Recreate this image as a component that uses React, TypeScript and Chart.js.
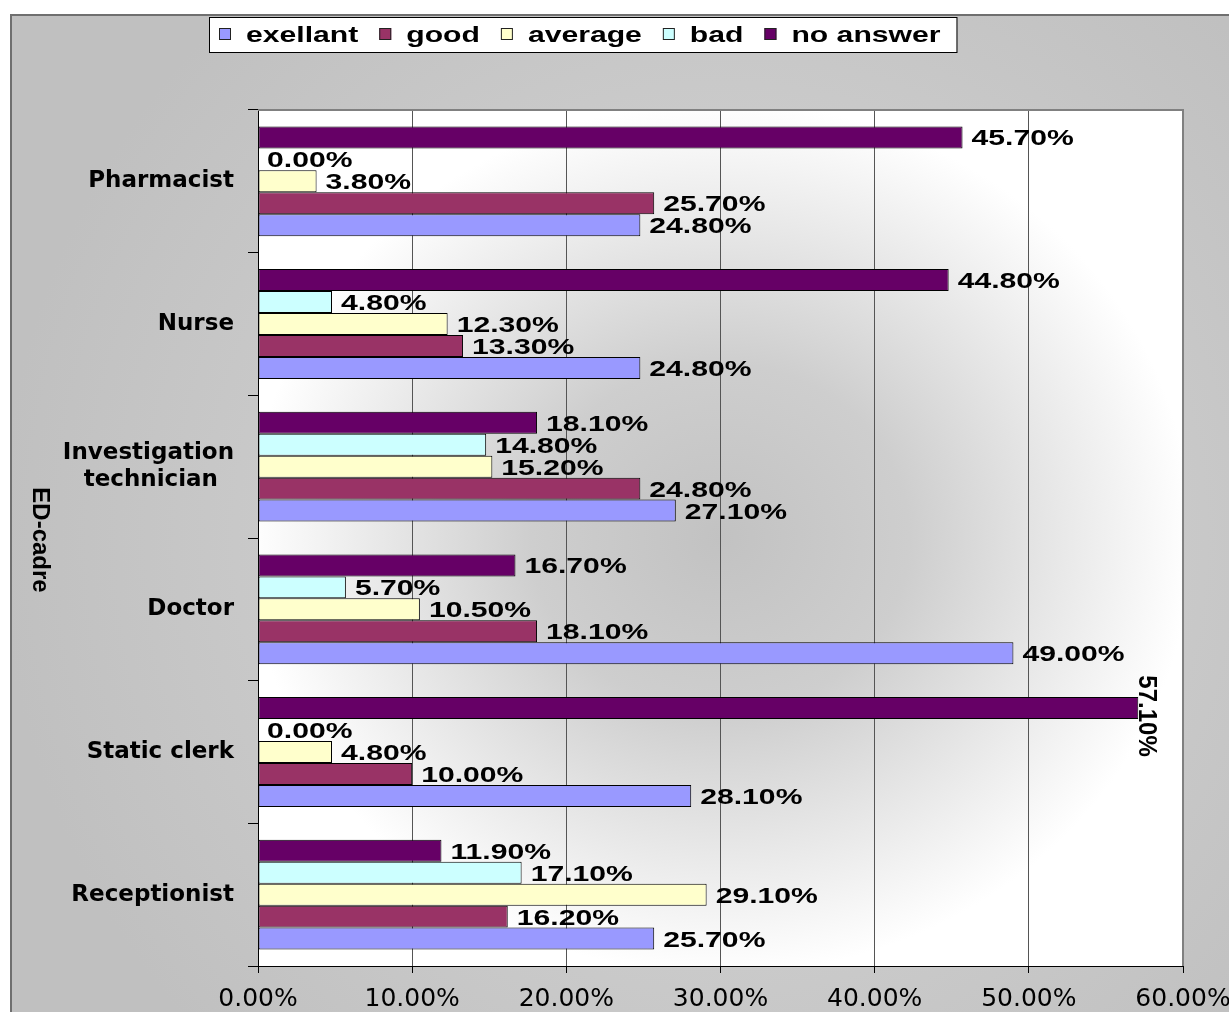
import React, { useEffect, useRef } from 'react';
import { Chart, registerables } from 'chart.js';

Chart.register(...registerables);

// ---------- data ----------
const categories = ['Pharmacist', 'Nurse', 'Investigation technician', 'Doctor', 'Static clerk', 'Receptionist'];
const seriesNames = ['exellant', 'good', 'average', 'bad', 'no answer'];
const exellant = [24.8, 24.8, 27.1, 49.0, 28.1, 25.7];
const good = [25.7, 13.3, 24.8, 18.1, 10.0, 16.2];
const average = [3.8, 12.3, 15.2, 10.5, 4.8, 29.1];
const bad = [0.0, 4.8, 14.8, 5.7, 0.0, 17.1];
const noAnswer = [45.7, 44.8, 18.1, 16.7, 57.1, 11.9];
const xTickValues = [0, 10, 20, 30, 40, 50, 60];
const yAxisTitle = 'ED-cadre';

const seriesColors = ['#9999FF', '#993366', '#FFFFCC', '#CCFFFF', '#660066'];
const seriesValues = [exellant, good, average, bad, noAnswer];

// ---------- helpers ----------
const LABEL_FONT = 'bold 22px "Liberation Sans"';
const SX = 1.37;
const Y_TICK_FONT = { family: '"DejaVu Sans"', size: 23, weight: 'bold' as const };

let measureCtx: CanvasRenderingContext2D | null = null;
function measure(text: string, font: string): number {
  if (!measureCtx) measureCtx = document.createElement('canvas').getContext('2d');
  measureCtx!.font = font;
  return measureCtx!.measureText(text).width;
}

function formatCategory(label: string): string | string[] {
  if (label.length <= 14) return label;
  const words = label.split(' ');
  const lines = [words[0], words.slice(1).join(' ')];
  const font = `bold ${Y_TICK_FONT.size}px ${Y_TICK_FONT.family}`;
  const widths = lines.map((l) => measure(l, font));
  const widest = Math.max(...widths);
  const sp = measure(' ', font);
  return lines.map((l, i) => l + ' '.repeat(Math.round((widest - widths[i]) / 2 / sp)));
}

const fmt = (v: number) => v.toFixed(2) + '%';

// ---------- plugin ----------
const decorPlugin = {
  id: 'decor',
  beforeDraw(chart: any) {
    const { ctx, width, height, chartArea: a } = chart;
    ctx.save();
    ctx.fillStyle = '#ffffff';
    ctx.fillRect(0, 0, width, height);
    const cx = (a.left + a.right) / 2;
    const cy = (a.top + a.bottom) / 2;
    const og = ctx.createRadialGradient(cx, cy, 0, cx, cy, 720);
    og.addColorStop(0, '#dddddd');
    og.addColorStop(0.55, '#cbcbcb');
    og.addColorStop(1, '#c0c0c0');
    ctx.fillStyle = og;
    ctx.fillRect(10, 14, width - 10, height - 14);
    ctx.strokeStyle = '#6f6f6f';
    ctx.lineWidth = 2;
    ctx.beginPath();
    ctx.moveTo(11, height);
    ctx.lineTo(11, 15);
    ctx.lineTo(width, 15);
    ctx.stroke();

    // plot area gradient
    const hw = (a.right - a.left) / 2;
    const hh = (a.bottom - a.top) / 2;
    ctx.save();
    ctx.beginPath();
    ctx.rect(a.left, a.top, a.right - a.left, a.bottom - a.top);
    ctx.clip();
    ctx.translate(cx, cy);
    ctx.scale(1, hh / hw);
    const pg = ctx.createRadialGradient(0, 0, 0, 0, 0, hw * 1.02);
    pg.addColorStop(0, '#c2c2c2');
    pg.addColorStop(0.4, '#cecece');
    pg.addColorStop(1, '#ffffff');
    ctx.fillStyle = pg;
    ctx.fillRect(-hw * 1.1, -hw * 1.1, hw * 2.2, hw * 2.2);
    ctx.restore();
    ctx.restore();
  },
  beforeDatasetsDraw(chart: any) {
    const { ctx, chartArea: a } = chart;
    ctx.save();
    ctx.strokeStyle = '#808080';
    ctx.lineWidth = 2;
    ctx.beginPath();
    ctx.moveTo(a.left, a.top);
    ctx.lineTo(a.right, a.top);
    ctx.lineTo(a.right, a.bottom);
    ctx.stroke();
    ctx.restore();
  },
  afterDatasetsDraw(chart: any) {
    const { ctx, width } = chart;
    ctx.save();
    ctx.fillStyle = '#000';
    chart.data.datasets.forEach((ds: any, i: number) => {
      const meta = chart.getDatasetMeta(i);
      meta.data.forEach((el: any, j: number) => {
        const v = ds.data[j];
        const text = fmt(v);
        ctx.font = LABEL_FONT;
        const w = ctx.measureText(text).width * SX;
        ctx.save();
        if (el.x + 9 + w > width) {
          ctx.font = 'bold 24px "Liberation Sans"';
          ctx.translate(el.x + 1, el.y + 8);
          ctx.scale(1.1, 1);
          ctx.rotate(Math.PI / 2);
          ctx.textAlign = 'center';
          ctx.textBaseline = 'alphabetic';
          ctx.fillText(text, 0, 0);
        } else {
          ctx.translate(el.x + 9, el.y + 8);
          ctx.scale(SX, 1);
          ctx.textAlign = 'left';
          ctx.textBaseline = 'alphabetic';
          ctx.fillText(text, 0, 0);
        }
        ctx.restore();
      });
    });
    ctx.restore();
  },
  afterDraw(chart: any) {
    const { ctx } = chart;
    ctx.save();
    // legend (series in original order)
    const boxLeft = 209;
    const boxTop = 17;
    const boxH = 35;
    ctx.font = LABEL_FONT;
    let x = boxLeft + 10;
    const items = seriesNames.map((name, i) => {
      const w = ctx.measureText(name).width * SX;
      const item = { name, color: seriesColors[i], mx: x, tx: x + 27, w };
      x = x + 27 + w + 21;
      return item;
    });
    const boxRight = x - 21 + 16;
    ctx.fillStyle = '#ffffff';
    ctx.fillRect(boxLeft, boxTop, boxRight - boxLeft, boxH);
    ctx.strokeStyle = '#000';
    ctx.lineWidth = 1;
    ctx.strokeRect(boxLeft + 0.5, boxTop + 0.5, boxRight - boxLeft, boxH);
    items.forEach((it) => {
      ctx.fillStyle = it.color;
      ctx.fillRect(it.mx, 28, 12, 12);
      ctx.strokeStyle = '#222';
      ctx.strokeRect(it.mx + 0.5, 28.5, 11, 11);
      ctx.save();
      ctx.fillStyle = '#000';
      ctx.translate(it.tx, 42);
      ctx.scale(SX, 1);
      ctx.textAlign = 'left';
      ctx.textBaseline = 'alphabetic';
      ctx.fillText(it.name, 0, 0);
      ctx.restore();
    });

    // y axis title, rotated clockwise
    ctx.save();
    ctx.fillStyle = '#000';
    ctx.font = 'bold 24px "Liberation Sans"';
    ctx.translate(33, 540);
    ctx.rotate(Math.PI / 2);
    ctx.textAlign = 'center';
    ctx.textBaseline = 'alphabetic';
    ctx.fillText(yAxisTitle, 0, 0);
    ctx.restore();
    ctx.restore();
  },
};

export default function App() {
  const canvasRef = useRef<HTMLCanvasElement | null>(null);

  useEffect(() => {
    if (!canvasRef.current) return;
    // datasets drawn top-to-bottom within each category: reverse of legend order
    const order = [4, 3, 2, 1, 0];
    const chart = new Chart(canvasRef.current, {
      type: 'bar',
      data: {
        labels: categories,
        datasets: order.map((i) => ({
          label: seriesNames[i],
          data: seriesValues[i],
          backgroundColor: seriesColors[i],
          borderColor: '#000000',
          borderWidth: 1,
          borderSkipped: false,
          categoryPercentage: 0.77,
          barPercentage: 1.0,
        })),
      },
      options: {
        indexAxis: 'y',
        animation: false,
        responsive: false,
        devicePixelRatio: 1,
        layout: { padding: { top: 110, right: 46, left: 0, bottom: 0 } },
        plugins: {
          legend: { display: false },
          tooltip: { enabled: false },
          title: { display: false },
        },
        scales: {
          x: {
            type: 'linear',
            min: xTickValues[0],
            max: xTickValues[xTickValues.length - 1],
            afterBuildTicks: (s: any) => {
              s.ticks = xTickValues.map((v) => ({ value: v }));
            },
            afterFit: (s: any) => {
              s.height = 46;
              s.paddingLeft = 0;
              s.paddingRight = 0;
            },
            grid: {
              color: '#555555',
              tickColor: '#000000',
              tickLength: 7,
              lineWidth: 1,
            },
            border: { color: '#000000', width: 1 },
            ticks: {
              color: '#000000',
              padding: 11,
              maxRotation: 0,
              autoSkip: false,
              font: { family: '"DejaVu Sans"', size: 25 },
              callback: (v: any) => fmt(Number(v)),
            },
          },
          y: {
            type: 'category',
            afterFit: (s: any) => {
              s.width = 258;
            },
            grid: {
              offset: true,
              drawOnChartArea: false,
              color: '#000000',
              tickLength: 10,
            },
            border: { color: '#000000', width: 1 },
            ticks: {
              color: '#000000',
              padding: 14,
              autoSkip: false,
              font: Y_TICK_FONT,
              callback: (v: any) => formatCategory(categories[Number(v)]),
            },
          },
        },
      },
      plugins: [decorPlugin],
    });
    return () => chart.destroy();
  }, []);

  return (
    <div style={{ position: 'absolute', left: 0, top: 0, width: 1229, height: 1012, overflow: 'hidden' }}>
      <canvas ref={canvasRef} width={1229} height={1012} style={{ display: 'block' }} />
    </div>
  );
}
